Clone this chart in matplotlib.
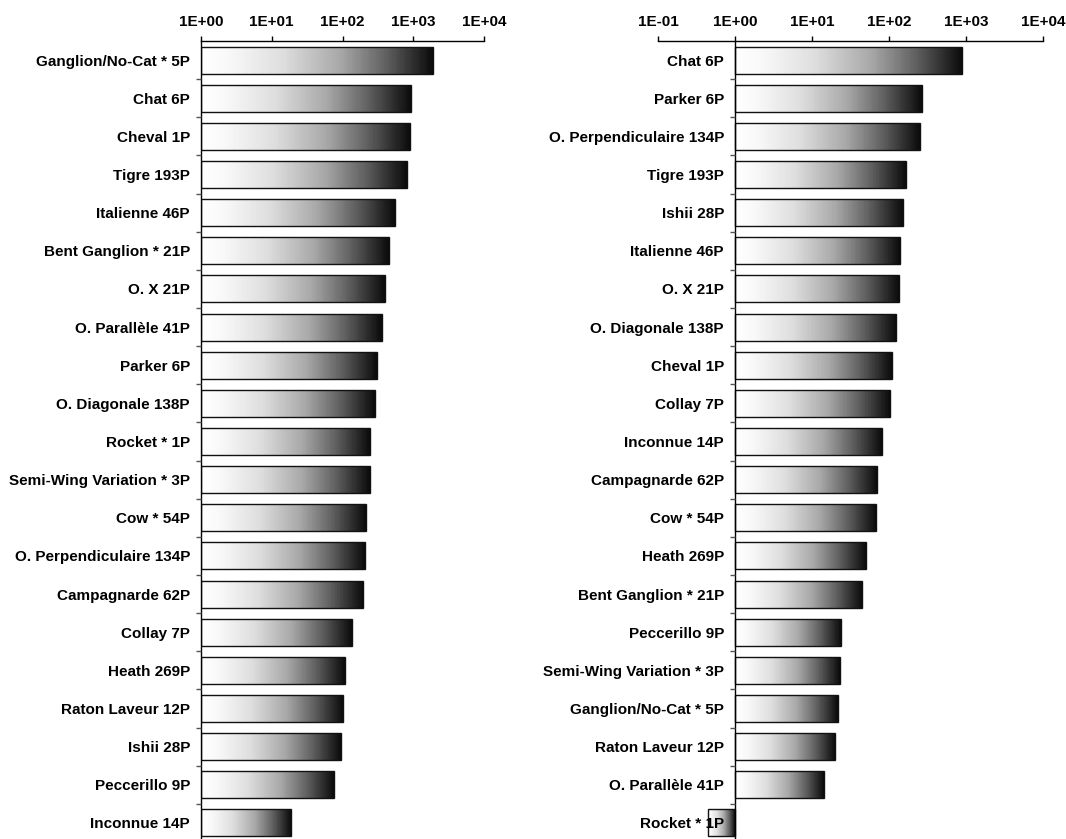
import numpy as np
import matplotlib
matplotlib.use("Agg")
import matplotlib.pyplot as plt
from matplotlib.colors import LinearSegmentedColormap
from matplotlib.ticker import FixedLocator, FuncFormatter

plt.rcParams['font.family'] = ['Liberation Sans', 'DejaVu Sans']

left_labels = ["Ganglion/No-Cat * 5P", "Chat 6P", "Cheval 1P", "Tigre 193P", "Italienne 46P",
               "Bent Ganglion * 21P", "O. X 21P", "O. Parallèle 41P", "Parker 6P",
               "O. Diagonale 138P", "Rocket * 1P", "Semi-Wing Variation * 3P", "Cow * 54P",
               "O. Perpendiculaire 134P", "Campagnarde 62P", "Collay 7P", "Heath 269P",
               "Raton Laveur 12P", "Ishii 28P", "Peccerillo 9P", "Inconnue 14P"]
left_values = [1900, 930, 900, 810, 550, 455, 400, 360, 307, 288, 245, 245, 215, 207, 195,
               136, 108, 102, 95, 76, 18.7]

right_labels = ["Chat 6P", "Parker 6P", "O. Perpendiculaire 134P", "Tigre 193P", "Ishii 28P",
                "Italienne 46P", "O. X 21P", "O. Diagonale 138P", "Cheval 1P", "Collay 7P",
                "Inconnue 14P", "Campagnarde 62P", "Cow * 54P", "Heath 269P",
                "Bent Ganglion * 21P", "Peccerillo 9P", "Semi-Wing Variation * 3P",
                "Ganglion/No-Cat * 5P", "Raton Laveur 12P", "O. Parallèle 41P", "Rocket * 1P"]
right_values = [890, 268, 252, 166, 152, 139, 135, 123, 109, 103, 81, 70, 68, 50, 45, 24, 23,
                21.7, 20, 14.2, 0.44]

left_ticks = [1, 10, 100, 1000, 10000]
right_ticks = [0.1, 1, 10, 100, 1000, 10000]

cmap = LinearSegmentedColormap.from_list(
    "grad", [(0.0, "#ffffff"), (0.12, "#f8f8f8"), (0.35, "#dedede"), (0.6, "#a8a8a8"),
             (0.8, "#606060"), (1.0, "#0c0c0c")])

fig = plt.figure(figsize=(10.66, 8.39), dpi=100)
W, H = 1066, 839


def draw(ax, labels, values, ticks, base):
    n = len(labels)
    ax.set_xscale('log')
    ax.set_xlim(ticks[0], ticks[-1])
    ax.set_ylim(n - 0.5, -0.5)
    h = 0.71
    for i, v in enumerate(values):
        lo, hi = min(v, base), max(v, base)
        xs = np.logspace(np.log10(lo), np.log10(hi), 201)
        ys = [i - h / 2, i + h / 2]
        c = np.linspace(0, 1, 200)[None, :]
        ax.pcolormesh(xs, ys, c, cmap=cmap, vmin=0, vmax=1, shading='flat',
                      edgecolors='none', linewidth=0, antialiased=False, zorder=2)
    ax.barh(range(n), [max(v, base) - min(v, base) for v in values],
            left=[min(v, base) for v in values], height=h,
            facecolor='none', edgecolor='#111111', linewidth=1.0, zorder=3)
    for s in ['right', 'bottom']:
        ax.spines[s].set_visible(False)
    ax.spines['left'].set_position(('data', base))
    ax.spines['left'].set_zorder(4)
    ax.spines['top'].set_linewidth(1.0)
    ax.spines['left'].set_linewidth(1.0)
    ax.xaxis.set_ticks_position('top')
    ax.xaxis.set_major_locator(FixedLocator(ticks))
    ax.xaxis.set_minor_locator(FixedLocator([]))
    ax.xaxis.set_major_formatter(FuncFormatter(lambda x, p: "1E%+03d" % int(round(np.log10(x)))))
    ax.tick_params(axis='x', which='major', direction='out', length=3.5, width=1.0,
                   pad=5, labelsize=11)
    for t in ax.get_xticklabels():
        t.set_fontweight('bold')
    ax.set_yticks(range(n))
    ax.set_yticklabels(labels, fontsize=11, fontweight='bold')
    ax.set_yticks(np.arange(0.5, n - 0.5, 1.0), minor=True)
    ax.tick_params(axis='y', which='major', length=0, pad=8)
    ax.tick_params(axis='y', which='minor', length=3.5, width=1.0, color='#555555')
    ax.yaxis.set_zorder(5)
    ax.set_facecolor('none')


top = 1 - 41 / H
height = 801 / H
axL = fig.add_axes([201 / W, top - height, (484 - 201) / W, height])
draw(axL, left_labels, left_values, left_ticks, 1)
axR = fig.add_axes([658 / W, top - height, (1043 - 658) / W, height])
draw(axR, right_labels, right_values, right_ticks, 1)

fig.savefig("out.png", dpi=100)
